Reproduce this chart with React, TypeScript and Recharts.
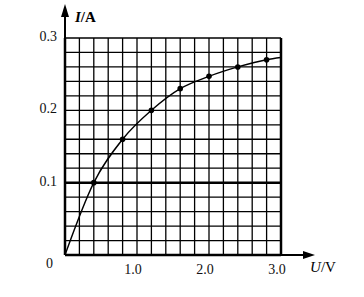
import React from 'react';
import { ComposedChart, Line, Scatter, XAxis, YAxis, CartesianGrid, ReferenceLine, ReferenceDot } from 'recharts';

// measured points (U in V, I in A)
const pointU = [0.4, 0.8, 1.2, 1.6, 2.0, 2.4, 2.8];
const pointI = [0.1, 0.16, 0.2, 0.23, 0.247, 0.26, 0.27];

// curve through the points, from origin to the edge of the grid
const curveU = [0, 0.4, 0.8, 1.2, 1.6, 2.0, 2.4, 2.8, 3.0];
const curveI = [0, 0.1, 0.16, 0.2, 0.23, 0.247, 0.26, 0.27, 0.273];

// grid ticks
const xGrid = [0, 0.2, 0.4, 0.6, 0.8, 1.0, 1.2, 1.4, 1.6, 1.8, 2.0, 2.2, 2.4, 2.6, 2.8, 3.0];
const yGrid = [0, 0.02, 0.04, 0.06, 0.08, 0.1, 0.12, 0.14, 0.16, 0.18, 0.2, 0.22, 0.24, 0.26, 0.28, 0.3];

// labelled ticks
const xTickValues = [1.0, 2.0, 3.0];
const xTickLabels = ['1.0', '2.0', '3.0'];
const yTickValues = [0.1, 0.2, 0.3];
const yTickLabels = ['0.1', '0.2', '0.3'];
const originLabel = '0';

const xAxisTitle = 'U';
const xAxisUnit = '/V';
const yAxisTitle = 'I';
const yAxisUnit = '/A';

const points = pointU.map((u, i) => ({ u, i: pointI[i] }));
const curve = curveU.map((u, i) => ({ u, i: curveI[i] }));

const FONT = '"Liberation Serif", "Times New Roman", serif';

const XTick = (props: any) => {
  const { x, y, payload } = props;
  const idx = xTickValues.indexOf(payload.value);
  if (idx < 0) return <g />;
  return (
    <text x={x - 4} y={y + 14} dy="0.35em" textAnchor="middle" fontFamily={FONT} fontSize={14} fill="#111">
      {xTickLabels[idx]}
    </text>
  );
};

const YTick = (props: any) => {
  const { x, y, payload } = props;
  if (payload.value === 0) {
    return (
      <text x={x - 12} y={y + 8} dy="0.35em" textAnchor="end" fontFamily={FONT} fontSize={14} fill="#111">
        {originLabel}
      </text>
    );
  }
  const idx = yTickValues.indexOf(payload.value);
  if (idx < 0) return <g />;
  return (
    <text x={x - 8} y={y - 2} dy="0.35em" textAnchor="end" fontFamily={FONT} fontSize={14} fill="#111">
      {yTickLabels[idx]}
    </text>
  );
};

const UpArrow = (props: any) => {
  const { cx, cy } = props;
  return (
    <g>
      <polygon points={`${cx},${cy} ${cx - 4},${cy + 13} ${cx + 4},${cy + 13}`} fill="#000" />
      <text x={cx + 10} y={cy + 13} dy="0.35em" fontFamily={FONT} fontSize={15} fontWeight="bold" fill="#000">
        <tspan fontStyle="italic">{yAxisTitle}</tspan>
        <tspan>{yAxisUnit}</tspan>
      </text>
    </g>
  );
};

const RightArrow = (props: any) => {
  const { cx, cy } = props;
  return (
    <g>
      <polygon points={`${cx},${cy} ${cx - 12},${cy - 4} ${cx - 12},${cy + 4}`} fill="#000" />
      <text x={cx + 8} y={cy + 12} dy="0.35em" textAnchor="middle" fontFamily={FONT} fontSize={15} fill="#000">
        <tspan fontStyle="italic">{xAxisTitle}</tspan>
        <tspan>{xAxisUnit}</tspan>
      </text>
    </g>
  );
};

const Dot = (props: any) => {
  const { cx, cy } = props;
  return <circle cx={cx} cy={cy} r={2.8} fill="#000" />;
};

export default function App() {
  return (
    <div style={{ position: 'absolute', left: 0, top: 0, width: 364, height: 297, background: '#fff' }}>
      <ComposedChart width={364} height={297} margin={{ top: 38, right: 83, bottom: 12, left: 15 }}>
        <CartesianGrid stroke="#000" strokeWidth={1.3} horizontalValues={yGrid} verticalValues={xGrid} />
        <XAxis
          type="number"
          dataKey="u"
          domain={[0, 3]}
          ticks={xGrid}
          allowDataOverflow
          height={30}
          tickLine={false}
          tickSize={0}
          tickMargin={0}
          axisLine={{ stroke: '#000', strokeWidth: 2.5 }}
          tick={<XTick />}
          interval={0}
        />
        <YAxis
          type="number"
          dataKey="i"
          domain={[0, 0.3]}
          ticks={yGrid}
          allowDataOverflow
          width={50}
          tickLine={false}
          tickSize={0}
          tickMargin={0}
          axisLine={{ stroke: '#000', strokeWidth: 2.5 }}
          tick={<YTick />}
          interval={0}
        />
        <ReferenceLine y={0.1} stroke="#000" strokeWidth={2.5} />
        <ReferenceLine x={3} stroke="#000" strokeWidth={2.5} />
        <ReferenceLine segment={[{ x: 0, y: 0.3 }, { x: 0, y: 0.335 }]} stroke="#000" strokeWidth={2} ifOverflow="visible" />
        <ReferenceLine segment={[{ x: 3, y: 0 }, { x: 3.4, y: 0 }]} stroke="#000" strokeWidth={2} ifOverflow="visible" />
        <ReferenceDot x={0} y={0.347} ifOverflow="visible" shape={<UpArrow />} />
        <ReferenceDot x={3.472} y={0} ifOverflow="visible" shape={<RightArrow />} />
        <Line data={curve} dataKey="i" type="monotone" stroke="#000" strokeWidth={1.4} dot={false} isAnimationActive={false} />
        <Scatter data={points} dataKey="i" shape={<Dot />} isAnimationActive={false} />
      </ComposedChart>
    </div>
  );
}
